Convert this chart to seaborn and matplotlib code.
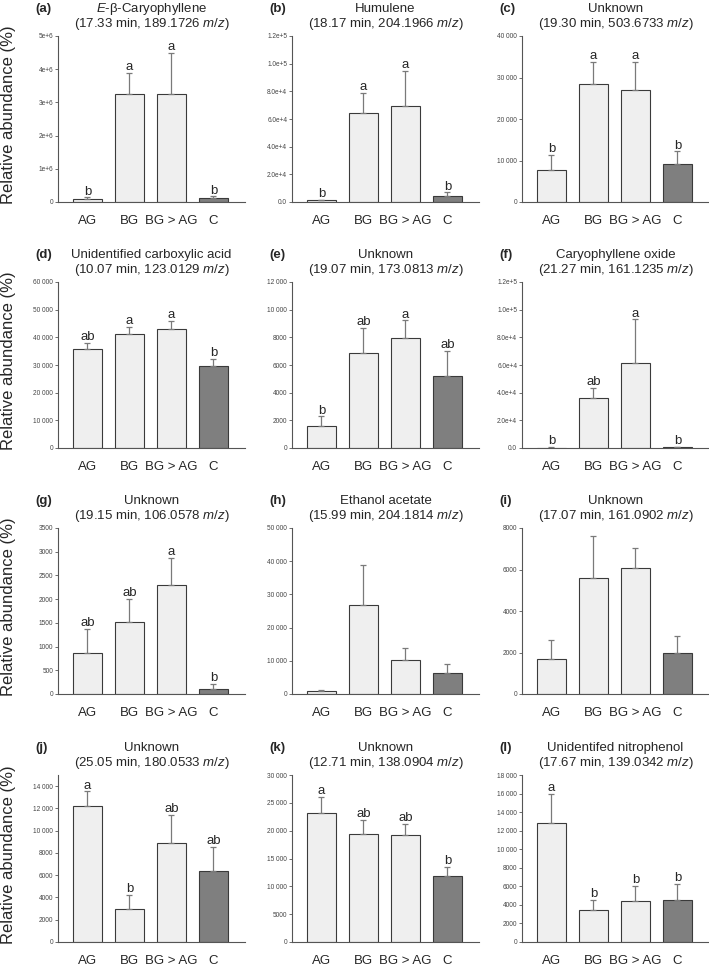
import numpy as np
import pandas as pd
import matplotlib
matplotlib.use("Agg")
import matplotlib.pyplot as plt
import seaborn as sns

groups = ["AG", "BG", "BG > AG", "C"]
bar_colors = ["#efefef", "#efefef", "#efefef", "#7f7f7f"]

# panel data: means, SD (upper error), significance letters
a_mean = [0.10e6, 3.25e6, 3.25e6, 0.13e6]
a_sd = [0.04e6, 0.65e6, 1.23e6, 0.04e6]
a_sig = ["b", "a", "a", "b"]

b_mean = [1200, 64200, 69500, 4600]
b_sd = [500, 14400, 25200, 2400]
b_sig = ["b", "a", "a", "b"]

c_mean = [7800, 28400, 27000, 9150]
c_sd = [3500, 5300, 6800, 3050]
c_sig = ["b", "a", "a", "b"]

d_mean = [35800, 41200, 42850, 29750]
d_sd = [2100, 2600, 3000, 2400]
d_sig = ["ab", "a", "a", "b"]

e_mean = [1560, 6840, 7940, 5210]
e_sd = [720, 1870, 1280, 1820]
e_sig = ["b", "ab", "a", "ab"]

f_mean = [150, 35800, 61200, 400]
f_sd = [550, 7400, 31700, 500]
f_sig = ["b", "ab", "a", "b"]

g_mean = [873, 1514, 2289, 106]
g_sd = [502, 486, 581, 112]
g_sig = ["ab", "ab", "a", "b"]

h_mean = [800, 26900, 10240, 6430]
h_sd = [300, 11850, 3620, 2610]
h_sig = ["", "", "", ""]

i_mean = [1670, 5590, 6060, 1980]
i_sd = [930, 2010, 990, 830]
i_sig = ["", "", "", ""]

j_mean = [12200, 2970, 8900, 6385]
j_sd = [1320, 1290, 2520, 2155]
j_sig = ["a", "b", "ab", "ab"]

k_mean = [23100, 19320, 19140, 11880]
k_sd = [3000, 2580, 2040, 1680]
k_sig = ["a", "ab", "ab", "b"]

l_mean = [12870, 3480, 4440, 4480]
l_sd = [3080, 1070, 1580, 1790]
l_sig = ["a", "b", "b", "b"]

names = ["$E$-β-Caryophyllene", "Humulene", "Unknown",
         "Unidentified carboxylic acid", "Unknown", "Caryophyllene oxide",
         "Unknown", "Ethanol acetate", "Unknown",
         "Unknown", "Unknown", "Unidentifed nitrophenol"]
rt_mz = ["17.33 min, 189.1726", "18.17 min, 204.1966", "19.30 min, 503.6733",
         "10.07 min, 123.0129", "19.07 min, 173.0813", "21.27 min, 161.1235",
         "19.15 min, 106.0578", "15.99 min, 204.1814", "17.07 min, 161.0902",
         "25.05 min, 180.0533", "12.71 min, 138.0904", "17.67 min, 139.0342"]

# y axis: max tick, step, upper limit, label style
y_max = [5e6, 1.2e5, 40000, 60000, 12000, 1.2e5, 3500, 50000, 8000, 14000, 30000, 18000]
y_step = [1e6, 2e4, 10000, 10000, 2000, 2e4, 500, 10000, 2000, 2000, 5000, 2000]
y_top = [5e6, 1.2e5, 40000, 60000, 12000, 1.2e5, 3500, 50000, 8000, 15000, 30000, 18000]
y_style = ["e0", "e1", "sp", "sp", "sp", "e1", "sp", "sp", "sp", "sp", "sp", "sp"]

panels = [(a_mean, a_sd, a_sig), (b_mean, b_sd, b_sig), (c_mean, c_sd, c_sig),
          (d_mean, d_sd, d_sig), (e_mean, e_sd, e_sig), (f_mean, f_sd, f_sig),
          (g_mean, g_sd, g_sig), (h_mean, h_sd, h_sig), (i_mean, i_sd, i_sig),
          (j_mean, j_sd, j_sig), (k_mean, k_sd, k_sig), (l_mean, l_sd, l_sig)]


def tick_text(v, style):
    if style in ("e0", "e1"):
        if v == 0:
            return "0" if style == "e0" else "0.0"
        ex = int(np.floor(np.log10(v) + 1e-9))
        man = v / 10 ** ex
        return f"{man:.0f}e+{ex}" if style == "e0" else f"{man:.1f}e+{ex}"
    n = int(round(v))
    if n >= 10000:
        return f"{n:,}".replace(",", " ")
    return str(n)


sns.set_style("ticks")
plt.rcParams["font.family"] = ["Liberation Sans", "DejaVu Sans"]
plt.rcParams["mathtext.fontset"] = "custom"
plt.rcParams["mathtext.rm"] = "Liberation Sans"
plt.rcParams["mathtext.it"] = "Liberation Sans:italic"

W, H = 709, 967
fig = plt.figure(figsize=(W / 100, H / 100), dpi=100)

lefts = [58, 292, 522]
width = 187
tops = [36, 282, 528, 775]
bottoms = [202, 448, 694, 942]
letters = "abcdefghijkl"

for p, (mean, sd, sig) in enumerate(panels):
    r, c = divmod(p, 3)
    L, T, B = lefts[c], tops[r], bottoms[r]
    ax = fig.add_axes([L / W, 1 - B / H, width / W, (B - T) / H])

    df = pd.DataFrame({"group": groups, "value": mean})
    sns.barplot(data=df, x="group", y="value", hue="group", order=groups,
                hue_order=groups, palette=bar_colors, edgecolor="#3a3a3a",
                linewidth=0.8, width=0.7, errorbar=None, legend=False, ax=ax)
    ax.errorbar(np.arange(4), mean, yerr=[np.zeros(4), sd], fmt="none",
                ecolor="#7a7a7a", elinewidth=0.9, capsize=2, capthick=0.9, zorder=1)
    for x, (m, s, lab) in enumerate(zip(mean, sd, sig)):
        if lab:
            ax.annotate(lab, (x, m + s), xytext=(0, 2), textcoords="offset points",
                        ha="center", va="baseline", fontsize=9.5)

    ax.set_xlim(-0.7, 3.75)
    ax.set_ylim(0, y_top[p])
    ticks = np.arange(0, y_max[p] + y_step[p] * 0.5, y_step[p])
    ax.set_yticks(ticks)
    ax.set_yticklabels([tick_text(v, y_style[p]) for v in ticks])
    ax.set_xlabel("")
    ax.set_ylabel("")
    sns.despine(ax=ax)
    for sp in ["left", "bottom"]:
        ax.spines[sp].set_color("#555555")
        ax.spines[sp].set_linewidth(0.8)
    ax.tick_params(axis="y", labelsize=4.7, length=2, width=0.6, pad=1.5,
                   color="#555555", labelcolor="#444444")
    ax.tick_params(axis="x", labelsize=9.5, length=0, pad=9)

    # two-line title and panel letter (baseline aligned)
    cx = (L + width / 2) / W
    y2 = 1 - (T - 9) / H
    y1 = 1 - (T - 24) / H
    fig.text(cx, y1, names[p], ha="center", va="baseline", fontsize=9.5)
    fig.text(cx, y2, f"({rt_mz[p]} $m/z$)", ha="center", va="baseline", fontsize=9.5)
    fig.text((L - 23) / W, y1, f"({letters[p]})", ha="left", va="baseline",
             fontsize=9.5, fontweight="bold")

    if c == 0:
        fig.text(9 / W, 1 - ((T + B) / 2 - 4) / H, "Relative abundance (%)",
                 rotation=90, ha="center", va="center", fontsize=12)

fig.savefig("out.png", dpi=100)
